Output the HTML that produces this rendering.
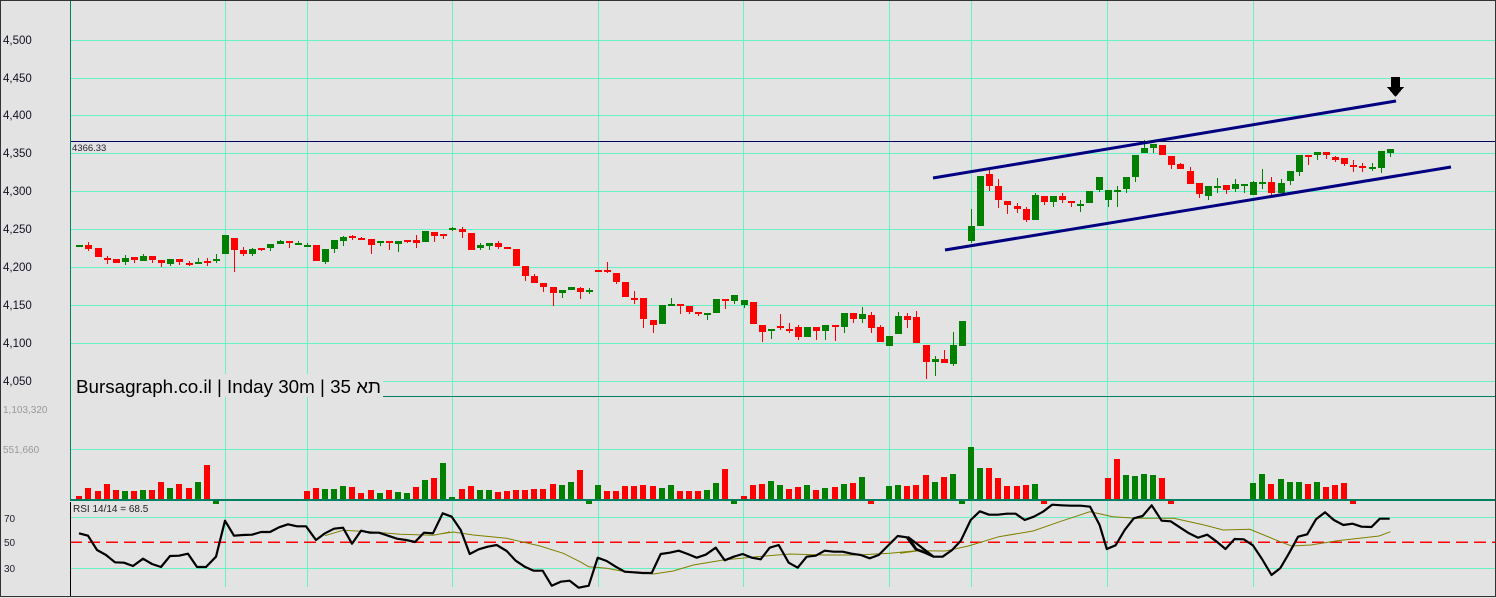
<!DOCTYPE html>
<html><head><meta charset="utf-8"><style>
html,body{margin:0;padding:0;background:#e3e3e3;}
svg{display:block;}
text{font-family:"Liberation Sans","Noto Sans CJK SC",sans-serif;}
</style></head><body>
<svg id="s" width="1496" height="598" xmlns="http://www.w3.org/2000/svg" shape-rendering="crispEdges">
<rect x="0" y="0" width="1496" height="598" fill="#e3e3e3"/>
<g id="grid" stroke="#66f2c4" stroke-width="1"></g>
<g id="cand"></g>
<g id="vol"></g>
<g id="rsi"></g>
<g shape-rendering="auto" stroke="#000080" stroke-width="3">
<line x1="933" y1="178" x2="1396" y2="101"/>
<line x1="945" y1="250" x2="1451" y2="167"/>
</g>
<line x1="70" y1="141.5" x2="1496" y2="141.5" stroke="#000060" stroke-width="1"/>
<rect x="71" y="143" width="50" height="10" fill="#e3e3e3"/>
<text x="72" y="151" font-size="9.5" fill="#223">4366.33</text>
<polygon points="1391,77 1400,77 1400,87 1404,87 1395.5,97 1387,87 1391,87" fill="#000"/>
<g font-size="11.5" fill="#112">
<text x="3" y="44">4,500</text><text x="3" y="82">4,450</text><text x="3" y="119">4,400</text>
<text x="3" y="157">4,350</text><text x="3" y="195">4,300</text><text x="3" y="233">4,250</text>
<text x="3" y="271">4,200</text><text x="3" y="309">4,150</text><text x="3" y="347">4,100</text>
<text x="3" y="385">4,050</text>
</g>
<g font-size="10" fill="#999"><text x="3" y="413">1,103,320</text><text x="3" y="453">551,660</text></g>
<g font-size="10" fill="#223"><text x="4" y="522">70</text><text x="4" y="546">50</text><text x="4" y="572">30</text></g>
<text x="73" y="512" font-size="10" fill="#222">RSI 14/14 = 68.5</text>
<rect x="71" y="374" width="312" height="22" fill="#e3e3e3"/>
<text x="76" y="393" font-size="18.5" fill="#000" textLength="305" lengthAdjust="spacingAndGlyphs">Bursagraph.co.il | Inday 30m | 35 תא</text>
<line x1="383" y1="396.5" x2="1496" y2="396.5" stroke="#008060" stroke-width="1"/>
<line x1="70" y1="500" x2="1496" y2="500" stroke="#008060" stroke-width="2"/>
<line x1="70.5" y1="0" x2="70.5" y2="500" stroke="#008060" stroke-width="1"/>
<line x1="70.5" y1="502" x2="70.5" y2="596" stroke="#000" stroke-width="1"/>
<rect x="0.5" y="0.5" width="1495" height="596" fill="none" stroke="#333" stroke-width="1"/>
</svg>
<script>
var NS="http://www.w3.org/2000/svg";
function el(p,t,a){var e=document.createElementNS(NS,t);for(var k in a)e.setAttribute(k,a[k]);p.appendChild(e);return e;}
var G=document.getElementById('grid');
[40,78,115,153,191,229,267,305,343,381].forEach(function(y){el(G,'line',{x1:70,x2:1496,y1:y+.5,y2:y+.5});});
[449,517,568].forEach(function(y){el(G,'line',{x1:70,x2:1496,y1:y+.5,y2:y+.5});});
[225,307,452,598,743,889,971,1107,1253].forEach(function(x){el(G,'line',{x1:x+.5,x2:x+.5,y1:0,y2:396});el(G,'line',{x1:x+.5,x2:x+.5,y1:397,y2:587});});
var D="g 75 80 75 80|r 75 87 66 92|r 84 110 84 110|r 113 117 108 131|r 117 128 117 128|g 114 125 105 134|r 111 119 111 128|g 108 122 102 122|r 108 119 108 128|r 120 128 120 140|g 117 131 117 137|r 117 125 117 134|r 128 131 123 137|g 126 128 114 128|r 122 128 114 137|g 117 122 102 128|g 45 101 45 101|r 54 89 54 155|r 90 102 81 107|g 87 102 84 107|r 84 87 84 92|g 71 83 71 92|g 63 71 60 71|r 63 65 63 83|g 68 71 63 75|g 74 76 70 82|r 75 122 75 122|g 87 125 87 131|g 60 86 60 98|g 51 62 48 77|r 49 52 45 60|r 53 56 51 56|r 57 75 57 101|g 63 65 63 77|r 63 68 63 89|g 63 71 63 95|r 60 62 60 68|r 60 68 46 83|g 33 65 33 65|r 36 47 36 65|r 42 44 42 56|g 24 26 20 32|r 27 35 20 53|r 39 89 39 89|g 75 83 69 89|g 70 77 70 89|r 69 80 63 86|r 81 86 81 86|r 87 137 87 137|r 138 167 138 183|r 168 188 162 188|r 189 200 189 215|r 201 218 201 257|g 210 218 210 233|g 201 209 201 209|r 204 215 200 236|g 210 215 204 221|r 150 153 150 155|r 150 153 126 158|r 159 185 159 191|r 186 230 186 230|r 233 236 213 251|r 234 296 234 323|r 300 314 300 338|g 255 311 255 311|g 252 257 234 257|r 252 257 252 281|r 258 275 258 281|r 276 281 276 287|g 279 281 279 299|g 237 278 237 278|r 236 238 236 266|g 225 242 225 251|g 240 254 240 263|r 246 311 246 311|r 315 335 315 365|g 327 332 327 356|r 318 324 282 329|r 326 328 309 338|r 321 350 315 359|g 321 350 321 350|r 321 332 321 359|g 315 332 315 359|r 315 320 315 362|g 279 320 279 338|r 279 296 279 308|g 282 296 261 308|r 285 323 276 338|r 321 365 315 365|g 348 377 348 377|g 288 341 276 341|r 288 299 279 323|r 291 368 273 368|r 375 425 375 476|g 417 425 408 467|r 417 428 390 428|g 375 431 336 437|g 303 377 303 377|g 468 512 417 520|g 318 468 318 468|r 312 347 297 362|r 348 389 327 413|r 393 405 393 431|r 408 416 398 428|r 417 449 410 455|g 375 449 370 449|r 378 395 378 405|g 378 395 378 410|r 378 389 369 398|r 393 398 393 410|g 403 405 390 425|g 363 398 363 398|g 321 359 321 365|g 360 389 360 410|g 361 365 348 410|g 321 356 321 368|g 255 320 255 335|g 233 250 210 250|g 222 233 222 249|r 225 254 225 254|r 258 284 258 296|r 282 296 278 296|r 303 341 290 341|r 339 371 339 383|g 348 377 348 389|g 348 350 324 368|r 345 359 345 371|g 342 356 326 365|g 342 344 342 368|g 336 374 332 374|g 337 341 297 356|r 336 368 321 376|g 339 368 326 368|g 303 332 303 344|g 255 305 255 317|r 256 259 256 284|g 246 256 246 269|r 246 256 246 266|r 261 269 257 276|r 264 281 264 287|r 285 289 270 305|r 287 290 280 305|g 291 294 280 302|g 243 293 243 308|g 237 248 237 260".split('|');
var C=document.getElementById('cand');
function X(i){return 79.3+i*9.1;}
D.forEach(function(s,i){var p=s.split(' ');var off=i<98?220:70;var col=p[0]=='g'?'#008000':'#ff0000';
var bt=Math.round(off+(+p[1])/3),bb=Math.round(off+(+p[2])/3),wt=Math.round(off+(+p[3])/3),wb=Math.round(off+(+p[4])/3);
if(bb-bt<2)bb=bt+2;var cx=Math.round(X(i));
el(C,'rect',{x:cx,y:wt,width:1,height:Math.max(1,wb-wt),fill:col});
el(C,'rect',{x:cx-3,y:bt,width:7,height:bb-bt,fill:col});});
var V={0:'r496',1:'r488',2:'r491',3:'r484',4:'r490',5:'g491',6:'r491',7:'g490',8:'r490',9:'r482',10:'g488',11:'r484',12:'r488',13:'g482',14:'r465',15:'gn',
25:'r491',26:'r488',27:'g489',28:'g489',29:'g486',30:'r487',31:'r493',32:'r490',33:'g493',34:'r490',35:'g492',36:'g493',37:'r487',38:'g480',39:'r478',
40:'g463',41:'g497',42:'r489',43:'r486',44:'g490',45:'g490',46:'r492',47:'r491',48:'r490',49:'r490',50:'r489',51:'r489',52:'r484',53:'g485',54:'g482',55:'r470',56:'gn',57:'g485',58:'r491',59:'r491',60:'r486',61:'r486',62:'r485',63:'r486',64:'g488',65:'g485',66:'r491',67:'r491',68:'r491',69:'g490',70:'g483',71:'r469',72:'gn',73:'r496',74:'r485',75:'r484',76:'g481',77:'g485',78:'r489',79:'r487',80:'g485',81:'r490',82:'g488',83:'r487',84:'g484',85:'r483',86:'g477',87:'rn',
89:'g486',90:'g485',91:'r486',92:'r485',93:'r475',94:'g482',95:'r477',96:'g474',97:'gn',98:'g447',99:'g468',100:'r468',101:'r478',102:'r486',103:'r486',104:'r485',105:'g484',106:'rn',
113:'r478',114:'r459',115:'g475',116:'g476',117:'g474',118:'g475',119:'r478',120:'rn',
129:'g483',130:'g474',131:'r484',132:'g479',133:'g482',134:'g482',135:'r484',136:'g482',137:'r487',138:'r485',139:'r483',140:'rn'};
var VG=document.getElementById('vol');
for(var k in V){var s=V[k];var col=s[0]=='g'?'#008000':'#ff0000';var cx=Math.round(X(+k));
if(s[1]=='n'){el(VG,'rect',{x:cx-3,y:500,width:6,height:4,fill:col});}
else{var t=+s.slice(1);el(VG,'rect',{x:cx-3,y:t,width:6,height:499-t,fill:col});}}
var R=document.getElementById('rsi');
el(R,'line',{x1:70,x2:1496,y1:542,y2:542,stroke:'#ff0000','stroke-width':1.5,'stroke-dasharray':'12,6'});
function pts(a,ox,oy,sx,sy){var o=[];for(var i=0;i<a.length;i+=2)o.push((ox+a[i]/sx).toFixed(1)+','+(oy+a[i+1]/sy).toFixed(1));return o;}
var olive=[].concat(
pts([975,497,1029,481,1110,485,1200,493,1300,496,1350,486],0,370,3,3),
pts([0,282,40,276,100,285,200,295,300,318,370,340,420,365,446,380,500,385,560,396,640,402,700,393,760,375,850,360,950,350,1050,342,1150,345,1250,345,1350,340,1450,330],440,440,3,3),
pts([0,340,50,332,120,333,180,318,260,290,350,273,420,245,500,215,560,230,620,235,720,235,800,255,850,270,920,268,1000,305,1030,318,1080,315,1150,302,1260,288,1290,275],900,440,2.63,3));
var blk=[].concat(
pts([237,490,264,497,291,540,318,555,345,577,372,578,399,588,429,566,456,582,483,591,510,558,537,557,564,551,591,591,618,591,648,560,675,452,702,497,729,495,756,494,783,486,810,486,837,472,864,463,891,469,918,469,948,510,975,490,1002,476,1029,473,1056,521,1083,482,1110,488,1137,488,1164,497,1191,506,1218,510,1245,516,1272,488,1299,490],0,370,3,3),
pts([8,220,35,230,62,270,89,342,116,328,143,320,170,315,200,333,227,362,254,380,281,392,308,392,335,437,362,425,389,422,416,443,446,437,473,353,500,363,527,380,554,395,581,397,608,399,635,399,662,342,689,338,716,332,743,342,770,353,797,344,827,323,854,361,881,350,908,342,935,353,962,358,989,323,1016,315,1046,368,1073,383,1100,350,1127,347,1154,332,1181,335,1208,335,1235,341,1262,345,1289,355,1316,345,1346,315,1373,288,1400,292,1427,328,1454,338,1481,350],440,440,3,3),
pts([22,292,43,327,66,338,89,350,112,350,137,330,160,302,186,240,210,214,234,224,257,224,281,221,304,221,328,240,352,230,376,215,400,194,425,196,450,197,475,197,500,200,525,255,544,327,567,316,591,270,615,235,638,228,662,196,688,242,712,244,736,262,760,280,784,293,808,284,832,304,856,327,880,297,904,298,928,316,952,357,977,405,1000,385,1023,340,1047,290,1071,283,1094,238,1118,217,1141,240,1166,255,1190,251,1214,260,1240,261,1262,236,1288,236],900,440,2.63,3));
el(R,'polyline',{points:olive.join(' '),fill:'none',stroke:'#808000','stroke-width':1,'shape-rendering':'auto'});
el(R,'polyline',{points:blk.join(' '),fill:'none',stroke:'#000','stroke-width':2.2,'stroke-linejoin':'round','shape-rendering':'auto'});
</script>
</body></html>
